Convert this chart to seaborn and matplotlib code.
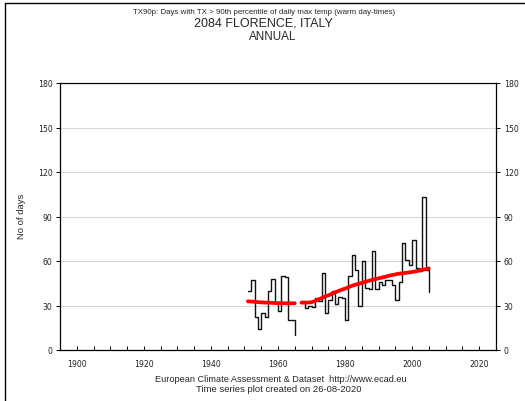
import matplotlib
matplotlib.use("Agg")
import matplotlib.pyplot as plt
import seaborn as sns
import pandas as pd
from matplotlib.lines import Line2D

# ---- data ----
years_a = list(range(1951, 1966))
days_a = [40, 47, 22, 14, 25, 22, 40, 48, 32, 26, 50, 49, 20, 20, 10]
years_b = list(range(1967, 2006))
days_b = [33, 28, 30, 29, 35, 33, 52, 25, 34, 40, 31, 36, 35, 20, 50, 64, 54, 30, 60,
          42, 41, 67, 41, 46, 44, 47, 47, 44, 34, 46, 72, 61, 57, 74, 55, 53, 103, 54, 39]
trend_a = [32.8, 32.7, 32.5, 32.3, 32.1, 32.0, 31.9, 31.8, 31.7, 31.6, 31.6, 31.5, 31.5, 31.5, 31.5]
trend_b = [31.9, 31.9, 32.0, 32.2, 33.0, 34.0, 35.0, 36.0, 36.8, 37.8, 38.8, 39.8, 40.6, 41.4,
           42.3, 43.2, 44.0, 44.6, 45.2, 45.9, 46.6, 47.3, 47.8, 48.3, 48.8, 49.4, 50.0, 50.5,
           51.0, 51.4, 51.7, 52.0, 52.3, 52.6, 53.0, 53.5, 54.0, 54.5, 55.0]

y_ticks = [0, 30, 60, 90, 120, 150, 180]
x_major = [1900, 1920, 1940, 1960, 1980, 2000, 2020]

title1 = "TX90p: Days with TX > 90th percentile of daily max temp (warm day-times)"
title2 = "2084 FLORENCE, ITALY"
title3 = "ANNUAL"
ylabel = "No of days"
footer1 = "European Climate Assessment & Dataset  http://www.ecad.eu"
footer2 = "Time series plot created on 26-08-2020"

sns.set_theme(style="white")
plt.rcParams['font.family'] = ['Liberation Sans', 'DejaVu Sans']

W, H = 525, 402
fig = plt.figure(figsize=(W / 100, H / 100), dpi=100)
fig.patch.set_facecolor('white')
ax = fig.add_axes([60 / W, 1 - 351 / H, 436 / W, 267 / H])
ax.set_facecolor('white')

df_a = pd.DataFrame({'year': years_a, 'days': days_a, 'trend': trend_a})
df_b = pd.DataFrame({'year': years_b, 'days': days_b, 'trend': trend_b})

for df in (df_a, df_b):
    sns.lineplot(data=df, x='year', y='days', drawstyle='steps-post', color='#111111',
                 lw=1.0, ax=ax, zorder=3)
for df in (df_a, df_b):
    sns.lineplot(data=df, x='year', y='trend', color='#ff0000', lw=2.7, ax=ax, zorder=4)

ax.set_xlim(1895, 2025)
ax.set_ylim(0, 180)
ax.set_yticks(y_ticks)
ax.set_yticklabels([str(v) for v in y_ticks])
ax.set_xticks(x_major)
ax.set_xticklabels([str(v) for v in x_major])
ax.set_xticks(list(range(1900, 2025, 5)), minor=True)
ax.yaxis.grid(True, color='#d9d9d9', lw=0.8)
ax.xaxis.grid(False)
ax.set_axisbelow(True)

for s in ax.spines.values():
    s.set_visible(True)
    s.set_color('black')
    s.set_linewidth(0.9)

ax.tick_params(axis='y', which='both', direction='out', length=3, width=0.7,
               left=True, right=True, labelleft=True, labelright=True,
               labelsize=5.6, pad=2.5, colors='black', labelcolor='#222222')
for lab in ax.get_yticklabels():
    lab.set_family('DejaVu Sans')
ax.tick_params(axis='x', which='both', direction='in', length=3, width=0.7,
               bottom=True, top=False, labelsize=5.6, pad=6.5, colors='black',
               labelcolor='#222222')
for lab in ax.get_xticklabels():
    lab.set_family('DejaVu Sans')

ax.set_xlabel('')
ax.set_ylabel('')
fig.text(21 / W, 1 - 216 / H, ylabel, rotation=90, ha='center', va='center', fontsize=6.8)

fig.text(264 / W, 1 - 13 / H, title1, ha='center', va='center', fontsize=5.7)
fig.text(263 / W, 1 - 23 / H, title2, ha='center', va='center', fontsize=9.0)
fig.text(273 / W, 1 - 37 / H, title3, ha='center', va='center', fontsize=8.4)
fig.text(281 / W, 1 - 380 / H, footer1, ha='center', va='center', fontsize=6.55)
fig.text(279 / W, 1 - 389.5 / H, footer2, ha='center', va='center', fontsize=6.8)

fig.add_artist(Line2D([5 / W, 1.0], [1 - 4 / H, 1 - 4 / H], color='black', lw=1.0,
                      transform=fig.transFigure))
fig.add_artist(Line2D([5 / W, 5 / W], [0.0, 1 - 4 / H], color='black', lw=1.0,
                      transform=fig.transFigure))

fig.savefig('out.png', dpi=100, facecolor='white')
